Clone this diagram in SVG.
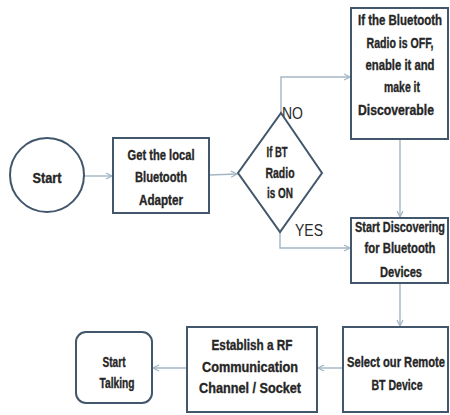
<svg xmlns="http://www.w3.org/2000/svg" width="450" height="415" viewBox="0 0 450 415">
<style>
.n{fill:#fff;stroke:#42576b;stroke-width:2}
.t{font-family:"Liberation Sans",Arial,sans-serif;font-weight:bold;font-size:10.5px;fill:#262626;stroke:#262626;stroke-width:0.25;text-anchor:middle}
.l{font-family:"Liberation Sans",Arial,sans-serif;font-size:13px;fill:#2a2a2a}
.c{fill:none;stroke:#a3b6c4;stroke-width:1.4}
</style>
<defs>
<marker id="a" markerWidth="8" markerHeight="8" refX="7" refY="4" orient="auto" markerUnits="userSpaceOnUse">
<path d="M1,1 L7,4 L1,7" fill="none" stroke="#a3b6c4" stroke-width="1.3"/>
</marker>
</defs>
<rect width="450" height="415" fill="#fff"/>
<g id="connectors">
<line class="c" x1="84" y1="176" x2="112" y2="176" marker-end="url(#a)"/>
<line class="c" x1="209" y1="175" x2="237" y2="174" marker-end="url(#a)"/>
<polyline class="c" points="281,113 281,77 350,77" marker-end="url(#a)"/>
<polyline class="c" points="280,232 280,248 350,248" marker-end="url(#a)"/>
<line class="c" x1="400" y1="139" x2="400" y2="217" marker-end="url(#a)"/>
<line class="c" x1="400" y1="283" x2="400" y2="326" marker-end="url(#a)"/>
<line class="c" x1="343" y1="368" x2="318" y2="368" marker-end="url(#a)"/>
<line class="c" x1="187" y1="368" x2="153" y2="368" marker-end="url(#a)"/>
<text class="l" transform="translate(282,119) scale(1,1.3)" textLength="21" lengthAdjust="spacingAndGlyphs">NO</text>
<text class="l" transform="translate(295,236) scale(1,1.3)" textLength="28" lengthAdjust="spacingAndGlyphs">YES</text>
</g>
<g id="start">
<circle class="n" cx="47" cy="175" r="37"/>
<text class="t" transform="translate(47,183) scale(1,1.33)" textLength="29" lengthAdjust="spacingAndGlyphs">Start</text>
</g>
<g id="getAdapter">
<rect class="n" x="113" y="138" width="96" height="75"/>
<text class="t" transform="translate(161,160) scale(1,1.33)" textLength="67" lengthAdjust="spacingAndGlyphs">Get the local</text>
<text class="t" transform="translate(161,182) scale(1,1.33)" textLength="52" lengthAdjust="spacingAndGlyphs">Bluetooth</text>
<text class="t" transform="translate(161,205) scale(1,1.33)" textLength="44" lengthAdjust="spacingAndGlyphs">Adapter</text>
</g>
<g id="decision">
<polygon class="n" points="281,113 322,173 280,232 238,173"/>
<text class="t" transform="translate(277,157) scale(1,1.33)" textLength="21" lengthAdjust="spacingAndGlyphs">If BT</text>
<text class="t" transform="translate(280,178) scale(1,1.33)" textLength="29" lengthAdjust="spacingAndGlyphs">Radio</text>
<text class="t" transform="translate(280,198) scale(1,1.33)" textLength="26" lengthAdjust="spacingAndGlyphs">is ON</text>
</g>
<g id="enable">
<rect class="n" x="351" y="8" width="97" height="131"/>
<text class="t" transform="translate(400,25) scale(1,1.33)" textLength="84" lengthAdjust="spacingAndGlyphs">If the Bluetooth</text>
<text class="t" transform="translate(400,48) scale(1,1.33)" textLength="67" lengthAdjust="spacingAndGlyphs">Radio is OFF,</text>
<text class="t" transform="translate(400,70) scale(1,1.33)" textLength="69" lengthAdjust="spacingAndGlyphs">enable it and</text>
<text class="t" transform="translate(402,92) scale(1,1.33)" textLength="36" lengthAdjust="spacingAndGlyphs">make it</text>
<text class="t" transform="translate(396,115) scale(1,1.33)" textLength="76" lengthAdjust="spacingAndGlyphs">Discoverable</text>
</g>
<g id="discover">
<rect class="n" x="351" y="218" width="97" height="65"/>
<text class="t" transform="translate(400,232) scale(1,1.33)" textLength="90" lengthAdjust="spacingAndGlyphs">Start Discovering</text>
<text class="t" transform="translate(400,253) scale(1,1.33)" textLength="71" lengthAdjust="spacingAndGlyphs">for Bluetooth</text>
<text class="t" transform="translate(401,277) scale(1,1.33)" textLength="42" lengthAdjust="spacingAndGlyphs">Devices</text>
</g>
<g id="select">
<rect class="n" x="343" y="327" width="105" height="85"/>
<text class="t" transform="translate(396,367) scale(1,1.33)" textLength="98" lengthAdjust="spacingAndGlyphs">Select our Remote</text>
<text class="t" transform="translate(397,390) scale(1,1.33)" textLength="51" lengthAdjust="spacingAndGlyphs">BT Device</text>
</g>
<g id="establish">
<rect class="n" x="187" y="327" width="130" height="85"/>
<text class="t" transform="translate(252,350) scale(1,1.33)" textLength="81" lengthAdjust="spacingAndGlyphs">Establish a RF</text>
<text class="t" transform="translate(250,372) scale(1,1.33)" textLength="96" lengthAdjust="spacingAndGlyphs">Communication</text>
<text class="t" transform="translate(250,393) scale(1,1.33)" textLength="102" lengthAdjust="spacingAndGlyphs">Channel / Socket</text>
</g>
<g id="talk">
<rect class="n" x="76" y="332" width="76" height="71" rx="10"/>
<text class="t" transform="translate(114,367) scale(1,1.33)" textLength="23" lengthAdjust="spacingAndGlyphs">Start</text>
<text class="t" transform="translate(117,388) scale(1,1.33)" textLength="35" lengthAdjust="spacingAndGlyphs">Talking</text>
</g>
</svg>
